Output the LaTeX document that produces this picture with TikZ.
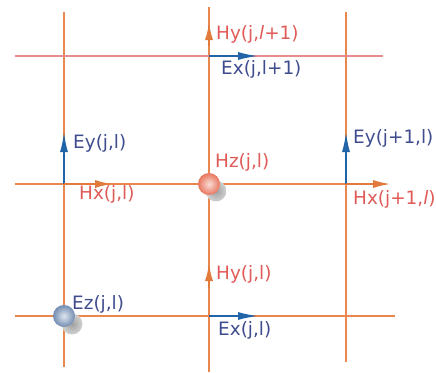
\documentclass[tikz,border=0pt]{standalone}
\usepackage{fontspec}
\setmainfont{DejaVu Sans}
\usetikzlibrary{arrows.meta}
\definecolor{gridor}{HTML}{E9874F}
\definecolor{arrowor}{HTML}{E27A3C}
\definecolor{pinkline}{HTML}{EA8C8F}
\definecolor{redtext}{HTML}{E05A57}
\definecolor{bluetext}{HTML}{3F4C8E}
\definecolor{bluearrow}{HTML}{2165A8}
\definecolor{hzball}{HTML}{E8765E}
\definecolor{ezball}{HTML}{7F9CC4}
\begin{document}
\begin{tikzpicture}[x=1bp,y=-1bp,
  gridline/.style={draw=gridor,line width=2.6bp},
  topline/.style={draw=pinkline,line width=1.6bp},
  earrow/.style={draw=bluearrow,line width=1.8bp,-{Latex[length=20bp,width=8bp]}},
  harrow/.style={draw=arrowor,line width=2.6bp,-{Latex[length=19bp,width=8bp]}},
  elabel/.style={text=bluetext,anchor=base west,inner sep=0pt,font=\fontsize{18.5}{20}\selectfont},
  hlabel/.style={text=redtext,anchor=base west,inner sep=0pt,font=\fontsize{18.5}{20}\selectfont},
  shadowdot/.style={circle,inner color=gray!75,outer color=gray!35,minimum size=21bp,inner sep=0pt},
  ball/.style={circle,minimum size=22bp,inner sep=0pt}]
\useasboundingbox (0,0) rectangle (436,372);
% grid coordinates
\coordinate (v1t) at (64,12);  \coordinate (v1b) at (64,367);
\coordinate (v2t) at (209,7);  \coordinate (v2b) at (209,372);
\coordinate (v3t) at (346,12); \coordinate (v3b) at (346,362);
\coordinate (h0l) at (15,56);  \coordinate (h0r) at (383,56);
\coordinate (h1l) at (15,184); \coordinate (h1r) at (380,184);
\coordinate (h2l) at (15,316); \coordinate (h2r) at (395,316);
\coordinate (p11) at (64,184); \coordinate (p21) at (209,184); \coordinate (p31) at (346,184);
\coordinate (p12) at (64,316); \coordinate (p22) at (209,316); \coordinate (p20) at (209,56);
% arrow end points
\coordinate (eyA) at (64,132);  \coordinate (hxA) at (114,184);
\coordinate (eyB) at (346,132); \coordinate (hxB) at (392,184);
\coordinate (hyTs) at (209,46); \coordinate (hyT) at (209,21);
\coordinate (exT) at (258,56);
\coordinate (hyBs) at (209,288); \coordinate (hyB) at (209,262);
\coordinate (exB) at (258,316);
% grid lines
\draw[gridline] (v1t) -- (v1b);
\draw[gridline] (v2t) -- (v2b);
\draw[gridline] (v3t) -- (v3b);
\draw[gridline] (h1l) -- (h1r);
\draw[gridline] (h2l) -- (h2r);
\draw[topline] (h0l) -- (h0r);
% field arrows
\draw[earrow] (p11) -- (eyA);
\draw[earrow] (p31) -- (eyB);
\draw[earrow] (p20) -- (exT);
\draw[earrow] (p22) -- (exB);
\draw[harrow] (p11) -- (hxA);
\draw[harrow] (p31) -- (hxB);
\draw[harrow] (hyTs) -- (hyT);
\draw[harrow] (hyBs) -- (hyB);
% balls
\node[shadowdot] (hzs) at (216,191) {};
\node[ball,inner color=hzball!25!white,outer color=hzball] (hz) at (p21) {};
\node[shadowdot] (ezs) at (72,324) {};
\node[ball,inner color=ezball!25!white,outer color=ezball!90!black] (ez) at (p12) {};
% labels
\node[hlabel] (lhyT) at (216,39) {Hy(j,\textit{l}+1)};
\node[elabel] (lexT) at (221,74) {Ex(j,l+1)};
\node[elabel] (leyA) at (73,148) {Ey(j,l)};
\node[hlabel] (lhxA) at (79,199) {Hx(j,l)};
\node[hlabel] (lhz) at (215,167) {Hz(j,l)};
\node[elabel] (leyB) at (353,143) {Ey(j+1,l)};
\node[hlabel] (lhxB) at (353,204) {Hx(j+1,\textit{l})};
\node[hlabel] (lhyB) at (216,279) {Hy(j,l)};
\node[elabel] (lez) at (72,309) {Ez(j,l)};
\node[elabel] (lexB) at (218,335) {Ex(j,l)};
\end{tikzpicture}
\end{document}
